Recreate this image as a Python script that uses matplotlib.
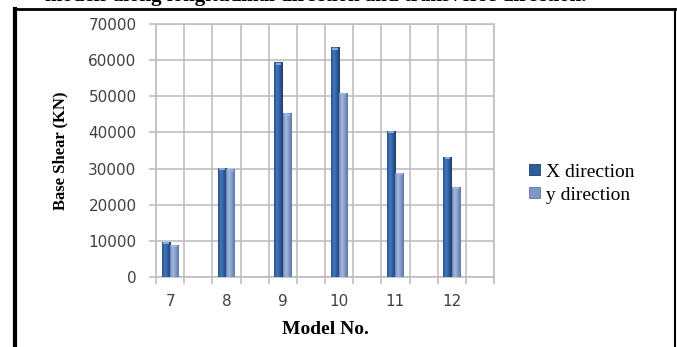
import numpy as np
import matplotlib
matplotlib.use("Agg")
import matplotlib.pyplot as plt
from matplotlib.colors import LinearSegmentedColormap
from matplotlib.lines import Line2D
from matplotlib.patches import Patch

# Base shear for each model, both directions
models = ["7", "8", "9", "10", "11", "12"]
x_dir = [9800, 30200, 59400, 63500, 40500, 33200]
y_dir = [8800, 29800, 45300, 51000, 28800, 25000]
series_names = ["X direction", "y direction"]

GRID = "#BFBFBF"
TICK_TXT = "#404040"

fig = plt.figure(figsize=(6.77, 3.47), dpi=100)
ax = fig.add_axes([156 / 677, 70 / 347, 338 / 677, 253 / 347])

pos = np.arange(len(models))
w = 0.15

bars_x = ax.bar(pos - w / 2, x_dir, width=w, color="#2E5C9C", zorder=3)
bars_y = ax.bar(pos + w / 2, y_dir, width=w, color="#7E97C7", zorder=3)

# shaded fill so the bars look rounded, like the office chart style
grad_x = LinearSegmentedColormap.from_list("gx", ["#24508C", "#4577BC", "#2D5C9C", "#1C3D6E"])
grad_y = LinearSegmentedColormap.from_list("gy", ["#7089BA", "#A5BAE0", "#7F98C8", "#5E76A6"])
ramp = np.linspace(0, 1, 64).reshape(1, -1)
for bars, cmap in ((bars_x, grad_x), (bars_y, grad_y)):
    for b in bars:
        x0, y0 = b.get_x(), b.get_y()
        im = ax.imshow(ramp, cmap=cmap, aspect="auto", zorder=4,
                       extent=(x0, x0 + b.get_width(), y0, y0 + b.get_height()))
        im.set_clip_path(b)
        # light cap on top of each bar
        ax.plot([x0 + b.get_width() * 0.15, x0 + b.get_width() * 0.85],
                [b.get_height() - 350] * 2, color="#9DB8E6", lw=1.2,
                zorder=5, solid_capstyle="butt")

ax.set_xlim(-0.25, len(models) - 0.25)
ax.set_ylim(0, 70000)
ax.set_yticks(np.arange(0, 70001, 10000))
ax.set_yticklabels([str(v) for v in range(0, 70001, 10000)])

# gridlines sit halfway around each category; labels at category centres
ax.set_xticks(np.arange(-0.25, len(models), 0.5))
ax.set_xticklabels([])
ax.set_xticks(pos, minor=True)
ax.set_xticklabels(models, minor=True)
ax.tick_params(axis="x", which="minor", length=0, pad=12, labelsize=11, labelcolor=TICK_TXT)
ax.tick_params(axis="x", which="major", length=5, color=GRID, width=1.2)
ax.tick_params(axis="y", length=5, color=GRID, width=1.2, pad=9, labelsize=11, labelcolor=TICK_TXT)
ax.grid(True, which="major", color=GRID, lw=1.2, zorder=0)
ax.set_axisbelow(True)
for s in ax.spines.values():
    s.set_color(GRID)
    s.set_linewidth(1.2)

ax.set_ylabel("Base Shear (KN)", family="Liberation Serif", fontweight="bold",
              fontsize=12, labelpad=14)
ax.set_xlabel("Model No.", family="Liberation Serif", fontweight="bold",
              fontsize=14, labelpad=9)

handles = [Patch(facecolor="#2E5C9C", edgecolor="#1C3D6E", lw=0.6),
           Patch(facecolor="#7E97C7", edgecolor="#5E76A6", lw=0.6)]
fig.legend(handles, series_names, loc="upper left", bbox_to_anchor=(521 / 677, 1 - 156 / 347),
           frameon=False, prop={"family": "Liberation Serif", "size": 14},
           handlelength=0.6, handleheight=0.5, handletextpad=0.3, labelspacing=0.3,
           borderaxespad=0)

# page frame around the chart and the caption line above it
fr = dict(color="black", transform=fig.transFigure)
fig.add_artist(Line2D([15.5 / 677, 15.5 / 677], [0, 1 - 9 / 347], lw=3, **fr))
fig.add_artist(Line2D([15 / 677, 675 / 677], [1 - 9 / 347, 1 - 9 / 347], lw=2, **fr))
fig.add_artist(Line2D([675 / 677, 675 / 677], [0, 1 - 9 / 347], lw=1.5, **fr))
fig.text(45 / 677, 1 - 0.5 / 347, "models along longitudinal direction and transverse direction.",
         family="Liberation Serif", fontweight="bold", fontsize=15, va="baseline", ha="left")

fig.savefig("out.png", dpi=100)
